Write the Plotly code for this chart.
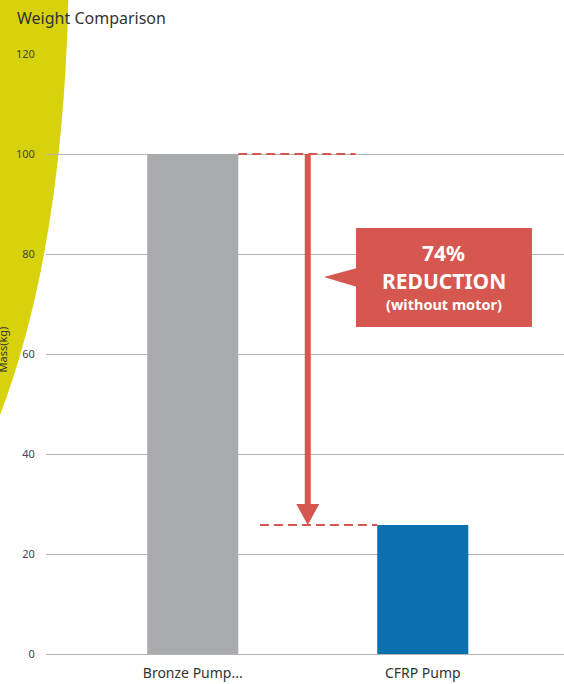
import plotly.graph_objects as go

categories = ["Bronze Pump...", "CFRP Pump"]
weights = [100, 25.8]
bar_colors = ["#a9aaad", "#0b70ae"]
y_ticks = [0, 20, 40, 60, 80, 100, 120]
callout_lines = ["74%", "REDUCTION", "(without motor)"]

W, H = 564, 684
ML, MR, MT, MB = 46, 0, 54, 30
PW, PH = W - ML - MR, H - MT - MB
RED = "#d55750"

fig = go.Figure()
fig.add_trace(go.Bar(
    x=[0, 1], y=weights, marker=dict(color=bar_colors, line=dict(width=0)),
    width=0.396, hoverinfo="skip",
))

def px(xp):
    return (xp - ML) / PW

def py(yp):
    return (H - MB - yp) / PH

shapes = []
# yellow decorative arc
path = "M {:.4f},{:.4f} L {:.4f},{:.4f} Q {:.4f},{:.4f} {:.4f},{:.4f} L {:.4f},{:.4f} Z".format(
    px(-5), py(-5), px(68.5), py(-5), px(63), py(250), px(0), py(415), px(-5), py(420))
shapes.append(dict(type="path", xref="paper", yref="paper", path=path,
                   fillcolor="#d7d20b", line=dict(width=0), layer="below"))

hi, lo = weights[0], weights[1]
half = 0.396 / 2
# dashed reference lines
shapes.append(dict(type="line", xref="x", yref="y", x0=half, x1=half + 0.51, y0=hi, y1=hi,
                   line=dict(color=RED, width=2, dash="9px,5px")))
shapes.append(dict(type="line", xref="x", yref="y", x0=1 - half - 0.51, x1=1 - half, y0=lo, y1=lo,
                   line=dict(color=RED, width=2, dash="9px,5px")))
# arrow
ax = 0.5
shapes.append(dict(type="line", xref="x", yref="y", x0=ax, x1=ax, y0=hi, y1=lo + 4,
                   line=dict(color=RED, width=6)))
shapes.append(dict(type="path", xref="x", yref="y",
                   path=f"M {ax-0.05},{lo+4.2} L {ax+0.05},{lo+4.2} L {ax},{lo} Z",
                   fillcolor=RED, line=dict(width=0)))
# callout box
bx0, bx1, by0, by1 = 0.7096, 1.4748, 65.4, 85.2
shapes.append(dict(type="rect", xref="x", yref="y", x0=bx0, x1=bx1, y0=by0, y1=by1,
                   fillcolor=RED, line=dict(width=0)))
shapes.append(dict(type="path", xref="x", yref="y",
                   path=f"M {bx0+0.005},77.2 L 0.5704,75.4 L {bx0+0.005},73.4 Z",
                   fillcolor=RED, line=dict(width=0)))

cx = (bx0 + bx1) / 2
annotations = [
    dict(x=cx, y=80.2, xref="x", yref="y", text=f"<b>{callout_lines[0]}</b>", showarrow=False,
         font=dict(size=21, color="white", family="Noto Sans")),
    dict(x=cx, y=74.7, xref="x", yref="y", text=f"<b>{callout_lines[1]}</b>", showarrow=False,
         font=dict(size=21, color="white", family="Noto Sans")),
    dict(x=cx, y=70.0, xref="x", yref="y", text=f"<b>{callout_lines[2]}</b>", showarrow=False,
         font=dict(size=14.5, color="white", family="Noto Sans")),
    dict(x=px(1.5), y=py(350), xref="paper", yref="paper", text="Mass(kg)", textangle=-90,
         showarrow=False, xanchor="center", yanchor="middle",
         font=dict(size=11, color="#333", family="Noto Sans")),
]

fig.update_layout(
    width=W, height=H,
    margin=dict(l=ML, r=MR, t=MT, b=MB),
    paper_bgcolor="white", plot_bgcolor="rgba(0,0,0,0)",
    showlegend=False,
    title=dict(text="Weight Comparison", x=17 / W, xanchor="left", xref="container",
               y=1 - 18 / H, yanchor="middle", yref="container",
               font=dict(size=16, color="#333", family="Noto Sans")),
    xaxis=dict(range=[-0.638, 1.614], tickvals=[0, 1], ticktext=categories,
               showgrid=False, zeroline=False, showline=False,
               ticks="outside", ticklen=6, tickcolor="rgba(0,0,0,0)",
               tickfont=dict(size=14, color="#333", family="Noto Sans")),
    yaxis=dict(range=[0, 120], tickvals=y_ticks, showgrid=True, gridcolor="#b4b4b4",
               gridwidth=1, zeroline=True, zerolinecolor="#b4b4b4", zerolinewidth=1,
               ticks="outside", ticklen=8, tickcolor="rgba(0,0,0,0)",
               tickfont=dict(size=11, color="#444", family="Noto Sans")),
    shapes=shapes, annotations=annotations,
)

fig.write_html("out.html", config={"displayModeBar": False},
               post_script="document.body.style.margin='0';document.body.style.overflow='hidden';")
